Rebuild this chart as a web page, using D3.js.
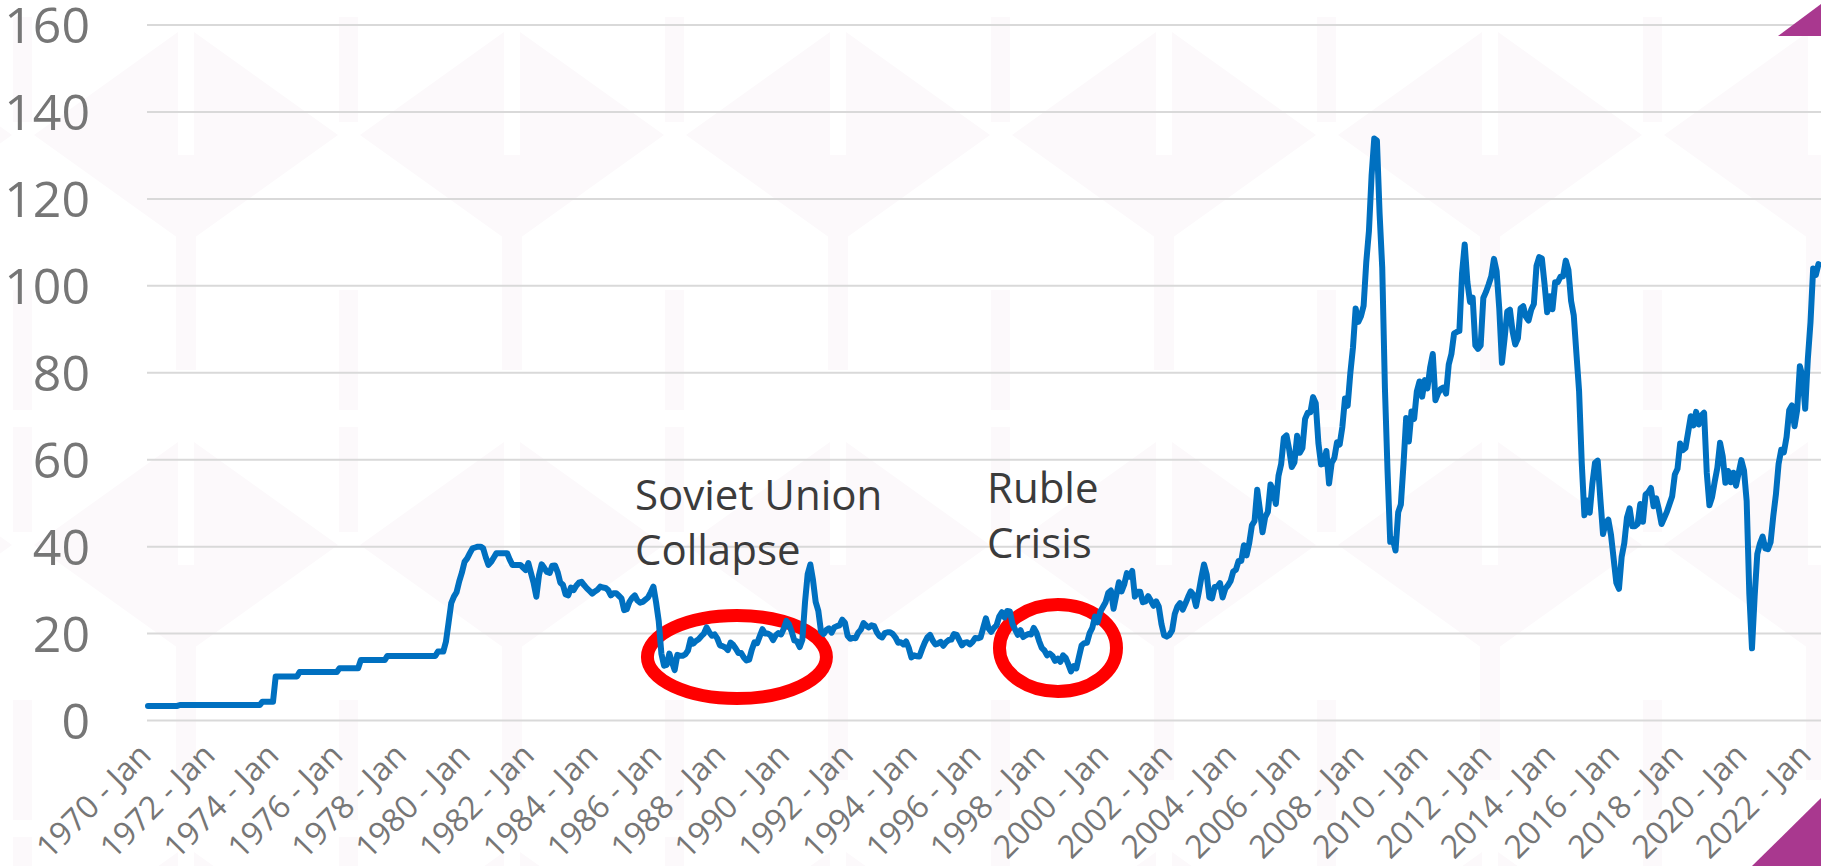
<!DOCTYPE html>
<html>
<head>
<meta charset="utf-8">
<script src="https://cdn.jsdelivr.net/npm/d3@7"></script>
<style>
  body { margin: 0; background: #fff; overflow: hidden; }
  svg { display: block; }
  text { font-family: "Open Sans", sans-serif; }
</style>
</head>
<body>
<div id="chart"></div>
<script>
// monthly crude oil price (USD / barrel), one row per year, starting 1970 - Jan
const prices1970s = [
  3.35, 3.35, 3.35, 3.35, 3.35, 3.35, 3.35, 3.35, 3.35, 3.35, 3.35, 3.35,
  3.56, 3.56, 3.56, 3.56, 3.56, 3.56, 3.56, 3.56, 3.56, 3.56, 3.56, 3.56,
  3.56, 3.56, 3.56, 3.56, 3.56, 3.56, 3.56, 3.56, 3.56, 3.56, 3.56, 3.56,
  3.56, 3.56, 3.56, 3.56, 3.56, 3.56, 3.56, 4.31, 4.31, 4.31, 4.31, 4.31,
  10.11, 10.11, 10.11, 10.11, 10.11, 10.11, 10.11, 10.11, 10.11, 11.16, 11.16, 11.16,
  11.16, 11.16, 11.16, 11.16, 11.16, 11.16, 11.16, 11.16, 11.16, 11.16, 11.16, 11.16,
  12.03, 12.03, 12.03, 12.03, 12.03, 12.03, 12.03, 12.03, 13.90, 13.90, 13.90, 13.90,
  13.90, 13.90, 13.90, 13.90, 13.90, 13.90, 14.85, 14.85, 14.85, 14.85, 14.85, 14.85,
  14.85, 14.85, 14.85, 14.85, 14.85, 14.85, 14.85, 14.85, 14.85, 14.85, 14.85, 14.85,
  14.85, 15.85, 15.85, 15.85, 18.10, 22.50, 27.00, 28.50, 29.50, 32.00, 34.00, 36.50
];
const prices1980s = [
  37.30, 38.50, 39.60, 39.80, 40.00, 40.00, 39.60, 37.50, 35.80, 36.50, 37.50, 38.50,
  38.50, 38.50, 38.50, 38.50, 37.00, 35.80, 35.80, 35.80, 35.80, 35.20, 34.60, 36.20,
  33.85, 31.56, 28.48, 33.45, 35.93, 35.07, 34.16, 33.95, 35.63, 35.68, 34.15, 31.72,
  31.20, 29.00, 28.80, 30.60, 30.00, 31.00, 31.70, 31.90, 31.10, 30.40, 29.80, 29.20,
  29.70, 30.10, 30.80, 30.60, 30.50, 30.00, 28.80, 29.30, 29.30, 28.70, 28.10, 25.40,
  25.60, 27.30, 28.20, 28.80, 27.60, 27.10, 27.30, 27.80, 28.30, 29.50, 30.80, 27.20,
  22.90, 15.40, 12.60, 12.80, 15.40, 13.40, 11.60, 15.10, 14.90, 14.90, 15.20, 16.10,
  18.70, 17.70, 18.30, 18.70, 19.40, 20.00, 21.40, 20.30, 19.50, 19.80, 18.90, 17.30,
  17.10, 16.80, 16.20, 17.90, 17.40, 16.50, 15.50, 15.50, 14.50, 13.80, 14.00, 16.30,
  18.00, 17.80, 19.40, 21.00, 20.00, 20.00, 19.60, 18.50, 19.60, 20.10, 19.80, 21.10
];
const prices1990s = [
  22.90, 22.10, 20.40, 18.40, 18.20, 16.90, 18.60, 27.20, 33.70, 35.90, 32.30, 27.30,
  25.20, 20.50, 19.90, 20.80, 21.20, 20.20, 21.40, 21.70, 21.90, 23.20, 22.50, 19.50,
  18.80, 19.00, 18.90, 20.20, 20.90, 22.40, 21.80, 21.40, 21.90, 21.70, 20.30, 19.40,
  19.10, 20.10, 20.30, 20.30, 19.90, 19.10, 17.90, 18.00, 17.50, 18.20, 16.70, 14.50,
  15.00, 14.80, 14.70, 16.40, 17.90, 19.10, 19.70, 18.40, 17.50, 17.70, 18.10, 17.20,
  18.00, 18.50, 18.60, 19.90, 19.70, 18.50, 17.30, 17.90, 18.00, 17.50, 18.10, 19.00,
  18.90, 19.10, 21.30, 23.50, 21.20, 20.40, 21.30, 21.90, 23.90, 24.90, 23.70, 25.20,
  25.10, 22.20, 20.90, 19.70, 20.80, 19.20, 19.60, 19.90, 19.80, 21.30, 20.20, 18.30,
  16.70, 16.10, 15.00, 15.40, 14.90, 13.70, 14.20, 13.50, 15.00, 14.40, 12.90, 11.30,
  12.50, 12.00, 14.70, 17.30, 17.80, 17.90, 20.10, 21.30, 23.90, 22.60, 25.00, 26.10
];
const prices2000s = [
  27.20, 29.40, 29.90, 25.70, 28.80, 31.80, 29.70, 31.30, 33.90, 33.10, 34.40, 28.50,
  29.60, 29.60, 27.20, 27.40, 28.60, 27.60, 26.40, 27.40, 26.20, 22.20, 19.60, 19.30,
  19.70, 20.70, 24.50, 26.20, 27.00, 25.50, 26.90, 28.40, 29.70, 28.90, 26.30, 29.40,
  32.90, 35.90, 33.60, 28.30, 28.10, 30.70, 30.80, 31.60, 28.30, 30.30, 31.10, 32.10,
  34.30, 34.70, 36.70, 36.70, 40.30, 38.00, 40.80, 44.90, 45.90, 53.10, 48.50, 43.30,
  46.80, 48.00, 54.30, 53.00, 49.80, 56.30, 59.00, 65.00, 65.60, 62.40, 58.30, 59.40,
  65.50, 61.60, 62.70, 69.40, 70.80, 70.90, 74.40, 73.00, 63.80, 58.90, 59.10, 62.00,
  54.50, 59.30, 60.40, 64.00, 63.50, 67.50, 74.10, 72.40, 79.90, 85.80, 94.80, 91.70,
  93.00, 95.40, 105.50, 112.60, 125.40, 133.90, 133.40, 116.70, 104.10, 76.60, 57.30, 41.10,
  41.70, 39.10, 47.90, 49.70, 59.00, 69.60, 64.20, 71.10, 69.40, 75.70, 78.00, 74.50
];
const prices2010s = [
  78.30, 76.40, 81.20, 84.30, 73.70, 75.30, 76.30, 76.60, 75.20, 81.90, 84.30, 89.00,
  89.40, 89.60, 102.90, 109.50, 100.90, 96.30, 97.30, 86.30, 85.50, 86.30, 97.20, 98.60,
  100.30, 102.20, 106.20, 103.30, 94.70, 82.30, 87.90, 94.10, 94.50, 89.50, 86.50, 87.90,
  94.80, 95.30, 92.90, 92.00, 94.50, 95.80, 104.60, 106.60, 106.30, 100.50, 93.90, 97.60,
  94.60, 100.80, 100.80, 102.10, 102.20, 105.80, 103.60, 96.50, 93.20, 84.40, 75.80, 59.30,
  47.20, 50.60, 47.80, 54.50, 59.30, 59.80, 50.90, 42.90, 45.50, 46.20, 42.70, 37.20,
  31.70, 30.30, 37.60, 40.80, 46.70, 48.80, 44.70, 44.70, 45.20, 49.80, 45.70, 52.00,
  52.50, 53.50, 49.30, 51.10, 48.50, 45.20, 46.60, 48.00, 49.80, 51.60, 56.60, 57.90,
  63.70, 62.20, 62.70, 66.30, 70.00, 67.90, 71.00, 68.10, 70.20, 70.80, 57.00, 49.50,
  51.40, 55.00, 58.20, 63.90, 60.80, 54.70, 57.40, 54.80, 57.00, 54.00, 57.00, 59.90
];
const prices2020s = [
  57.50, 50.50, 29.20, 16.60, 28.50, 38.30, 40.70, 42.30, 39.60, 39.40, 41.00, 47.00,
  52.00, 59.00, 62.30, 61.70, 65.20, 71.40, 72.50, 67.70, 71.50, 81.50, 79.20, 71.70,
  83.20, 91.60, 104.00, 102.50, 105.00
];

const tickYears = [1970, 1972, 1974, 1976, 1978, 1980, 1982, 1984, 1986, 1988, 1990,
  1992, 1994, 1996, 1998, 2000, 2002, 2004, 2006, 2008, 2010, 2012, 2014, 2016,
  2018, 2020, 2022];
const yTicks = [0, 20, 40, 60, 80, 100, 120, 140, 160];

// circled periods: month counted from 1970 - Jan, value at the ring centre
const annotations = [
  { lines: ["Soviet Union", "Collapse"], month: 221.4, value: 14.6 },
  { lines: ["Ruble", "Crisis"], month: 342.1, value: 16.7 }
];

const prices = [].concat(prices1970s, prices1980s, prices1990s,
  prices2000s, prices2010s, prices2020s);

const width = 1821, height = 866;
const plotLeft = 147;

const svg = d3.select("#chart").append("svg")
  .attr("width", width)
  .attr("height", height);

// very faint background watermark
const defs = svg.append("defs");
const pat = defs.append("pattern")
  .attr("id", "wm")
  .attr("patternUnits", "userSpaceOnUse")
  .attr("x", 1490).attr("y", 0)
  .attr("width", 326).attr("height", 410);
const wmFill = "#fcf9fb";
pat.append("polygon").attr("points", "152,135 8,32 8,238").attr("fill", wmFill);
pat.append("polygon").attr("points", "174,135 318,32 318,238").attr("fill", wmFill);
pat.append("rect").attr("x", 153).attr("y", 17).attr("width", 19).attr("height", 105).attr("fill", wmFill);
pat.append("rect").attr("x", 153).attr("y", 290).attr("width", 19).attr("height", 120).attr("fill", wmFill);
pat.append("rect").attr("x", 0).attr("y", 155).attr("width", 10).attr("height", 215).attr("fill", wmFill);
pat.append("rect").attr("x", 316).attr("y", 155).attr("width", 10).attr("height", 215).attr("fill", wmFill);
svg.append("rect").attr("width", width).attr("height", height).attr("fill", "url(#wm)");

// scales: one slot per month
const x = d3.scaleLinear()
  .domain([0, 624])
  .range([148, 148 + 624 * 2.66]);
const y = d3.scaleLinear()
  .domain([0, 160])
  .range([720.5, 25]);

// gridlines
svg.append("g")
  .selectAll("line")
  .data(yTicks)
  .join("line")
    .attr("x1", plotLeft)
    .attr("x2", width)
    .attr("y1", d => y(d))
    .attr("y2", d => y(d))
    .attr("stroke", "#d9d9d9")
    .attr("stroke-width", 2);

// y axis labels
svg.append("g")
  .selectAll("text")
  .data(yTicks)
  .join("text")
    .attr("x", 90)
    .attr("y", d => y(d))
    .attr("dy", "0.36em")
    .attr("text-anchor", "end")
    .attr("font-size", 50)
    .attr("fill", "#767676")
    .text(d => d);

// x axis labels, rotated
svg.append("g")
  .selectAll("text")
  .data(tickYears)
  .join("text")
    .attr("transform", d => `translate(${x((d - 1970) * 12) + 5},757) rotate(-45)`)
    .attr("text-anchor", "end")
    .attr("font-size", 32)
    .attr("fill", "#767676")
    .text(d => d + " - Jan");

// annotation rings and captions
const ringSize = [{ rx: 89.5, ry: 41.5, tx: -102, ty: -147 },
                  { rx: 58.5, ry: 43.5, tx: -71, ty: -145 }];
const anno = svg.append("g");
annotations.forEach((a, i) => {
  const cx = x(a.month), cy = y(a.value), s = ringSize[i];
  anno.append("ellipse")
    .attr("cx", cx).attr("cy", cy)
    .attr("rx", s.rx).attr("ry", s.ry)
    .attr("fill", "none")
    .attr("stroke", "#ff0000")
    .attr("stroke-width", 13);
  anno.append("text")
    .attr("x", cx + s.tx)
    .attr("y", cy + s.ty)
    .attr("font-size", 42)
    .attr("fill", "#3b3b3b")
    .selectAll("tspan")
    .data(a.lines)
    .join("tspan")
      .attr("x", cx + s.tx)
      .attr("dy", (d, j) => j ? 55 : 0)
      .text(d => d);
});

// price line
const line = d3.line()
  .x((d, i) => x(i))
  .y(d => y(d));
svg.append("path")
  .datum(prices)
  .attr("d", line)
  .attr("fill", "none")
  .attr("stroke", "#0070c0")
  .attr("stroke-width", 6)
  .attr("stroke-linejoin", "round")
  .attr("stroke-linecap", "round");

// purple corner accents
svg.append("polygon")
  .attr("points", `1752,${height} ${width},798 ${width},${height}`)
  .attr("fill", "#a9388f");
svg.append("polygon")
  .attr("points", `1778,36 ${width},4 ${width},36`)
  .attr("fill", "#a9388f");
</script>
</body>
</html>
